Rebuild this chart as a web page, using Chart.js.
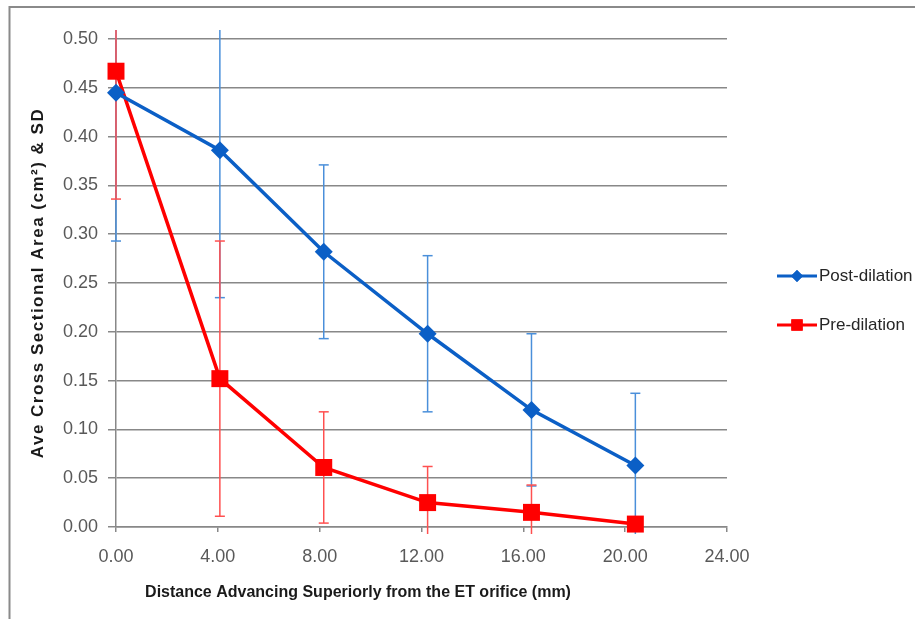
<!DOCTYPE html>
<html>
<head>
<meta charset="utf-8">
<script src="https://cdn.jsdelivr.net/npm/chart.js@4/dist/chart.umd.min.js"></script>
<style>
  html, body { margin: 0; padding: 0; background: #ffffff; }
  #wrap { position: relative; width: 915px; height: 619px; }
</style>
</head>
<body>
<div id="wrap"><canvas id="c" width="915" height="619"></canvas></div>
<script>
// ---- data ----
const distance = [0, 4.08, 8.16, 12.24, 16.32, 20.4];
const postDilation = [0.445, 0.386, 0.282, 0.198, 0.120, 0.063];
const postDilationSD = [0.152, 0.151, 0.089, 0.080, 0.078, 0.074];
const preDilation = [0.467, 0.152, 0.061, 0.025, 0.015, 0.003];
const preDilationSD = [0.131, 0.141, 0.057, 0.037, 0.028, 0.003];
const seriesNames = ['Post-dilation', 'Pre-dilation'];
const xTitle = 'Distance Advancing Superiorly from the ET orifice (mm)';
const yTitle = 'Ave Cross Sectional Area (cm\u00B2) & SD';

const BLUE = '#0B5FC6';
const BLUE_ERR = '#4A8FDA';
const RED = '#FF0000';
const RED_ERR = '#FF5050';
const GRID = '#888888';
const TICK_TXT = '#595959';

const toPts = (xs, ys) => xs.map((x, i) => ({ x: x, y: ys[i] }));

const errorBars = {
  id: 'errorBars',
  beforeDatasetsDraw(chart) {
    const { ctx, chartArea, scales } = chart;
    const xs = scales.x, ys = scales.y;
    ctx.save();
    ctx.beginPath();
    ctx.rect(chartArea.left - 20, chartArea.top - 9, chartArea.right - chartArea.left + 40, chartArea.bottom - chartArea.top + 16);
    ctx.clip();
    chart.data.datasets.forEach(ds => {
      ctx.strokeStyle = ds.errColor;
      ctx.lineWidth = 1.5;
      ds.data.forEach((p, i) => {
        const sd = ds.sd[i];
        const px = xs.getPixelForValue(p.x);
        const yHi = ys.getPixelForValue(p.y + sd);
        const yLo = ys.getPixelForValue(p.y - sd);
        ctx.beginPath();
        ctx.moveTo(px, yHi);
        ctx.lineTo(px, yLo);
        ctx.stroke();
        [yHi, yLo].forEach(yy => {
          ctx.beginPath();
          ctx.moveTo(px - 5, yy);
          ctx.lineTo(px + 5, yy);
          ctx.stroke();
        });
      });
    });
    ctx.restore();
  }
};

const decor = {
  id: 'decor',
  beforeDraw(chart) {
    const ctx = chart.ctx;
    ctx.save();
    ctx.fillStyle = '#ffffff';
    ctx.fillRect(0, 0, chart.width, chart.height);
    ctx.strokeStyle = '#8a8a8a';
    ctx.lineWidth = 2;
    ctx.beginPath();
    ctx.moveTo(9.5, chart.height);
    ctx.lineTo(9.5, 7);
    ctx.lineTo(chart.width, 7);
    ctx.stroke();
    ctx.restore();
  },
  afterDraw(chart) {
    const ctx = chart.ctx;
    const ca = chart.chartArea;
    ctx.save();
    // x axis title
    ctx.fillStyle = '#1a1a1a';
    ctx.font = 'bold 16px "Liberation Sans", Arial, sans-serif';
    ctx.textAlign = 'center';
    ctx.textBaseline = 'middle';
    ctx.fillText(xTitle, 358, 593);
    // y axis title (rotated)
    ctx.save();
    ctx.translate(38, (ca.top + ca.bottom) / 2);
    ctx.rotate(-Math.PI / 2);
    ctx.font = 'bold 17px "Liberation Sans", Arial, sans-serif';
    if ('letterSpacing' in ctx) ctx.letterSpacing = '1.5px';
    ctx.textAlign = 'center';
    ctx.textBaseline = 'middle';
    ctx.fillText(yTitle, 0, 0);
    ctx.restore();
    // legend
    const items = [
      { y: 276, style: 'rectRot', r: 6 },
      { y: 325, style: 'rect', r: 8 }
    ];
    chart.data.datasets.forEach((ds, i) => {
      const it = items[i];
      ctx.strokeStyle = ds.borderColor;
      ctx.lineWidth = 3;
      ctx.beginPath();
      ctx.moveTo(777, it.y);
      ctx.lineTo(817, it.y);
      ctx.stroke();
      ctx.fillStyle = ds.borderColor;
      Chart.helpers.drawPoint(ctx, { pointStyle: it.style, radius: it.r, rotation: 0, borderWidth: 0 }, 797, it.y);
      ctx.fill();
      ctx.fillStyle = '#262626';
      ctx.font = '17px "Liberation Sans", Arial, sans-serif';
      ctx.textAlign = 'left';
      ctx.textBaseline = 'middle';
      ctx.fillText(ds.label, 819, it.y);
    });
    ctx.restore();
  }
};

new Chart(document.getElementById('c'), {
  type: 'line',
  data: {
    datasets: [
      {
        label: seriesNames[0],
        data: toPts(distance, postDilation),
        sd: postDilationSD,
        errColor: BLUE_ERR,
        borderColor: BLUE,
        backgroundColor: BLUE,
        borderWidth: 3.5,
        pointStyle: 'rectRot',
        pointRadius: 9,
        pointBorderWidth: 0,
        tension: 0,
        clip: false
      },
      {
        label: seriesNames[1],
        data: toPts(distance, preDilation),
        sd: preDilationSD,
        errColor: RED_ERR,
        borderColor: RED,
        backgroundColor: RED,
        borderWidth: 3.5,
        pointStyle: 'rect',
        pointRadius: 12,
        pointBorderWidth: 0,
        tension: 0,
        clip: false
      }
    ]
  },
  options: {
    responsive: false,
    animation: false,
    layout: { padding: { left: 0, top: 39, right: 188, bottom: 0 } },
    plugins: { legend: { display: false }, tooltip: { enabled: false } },
    scales: {
      x: {
        type: 'linear',
        min: 0, max: 24,
        afterFit(s) { s.height = 92; },
        ticks: {
          stepSize: 4,
          padding: 14,
          color: TICK_TXT,
          font: { family: '"Liberation Sans", Arial, sans-serif', size: 18 },
          callback: v => Number(v).toFixed(2),
          maxRotation: 0
        },
        grid: { drawOnChartArea: false, drawTicks: true, tickLength: 5, color: GRID, lineWidth: 1.5 },
        border: { display: true, color: GRID, width: 1.5 }
      },
      y: {
        min: 0, max: 0.5,
        afterFit(s) { s.width = 116; },
        ticks: {
          stepSize: 0.05,
          padding: 10,
          color: TICK_TXT,
          font: { family: '"Liberation Sans", Arial, sans-serif', size: 18 },
          callback: v => Number(v).toFixed(2)
        },
        grid: { color: GRID, lineWidth: 1.5, tickLength: 8 },
        border: { display: true, color: GRID, width: 1.5 }
      }
    }
  },
  plugins: [decor, errorBars]
});
</script>
</body>
</html>
